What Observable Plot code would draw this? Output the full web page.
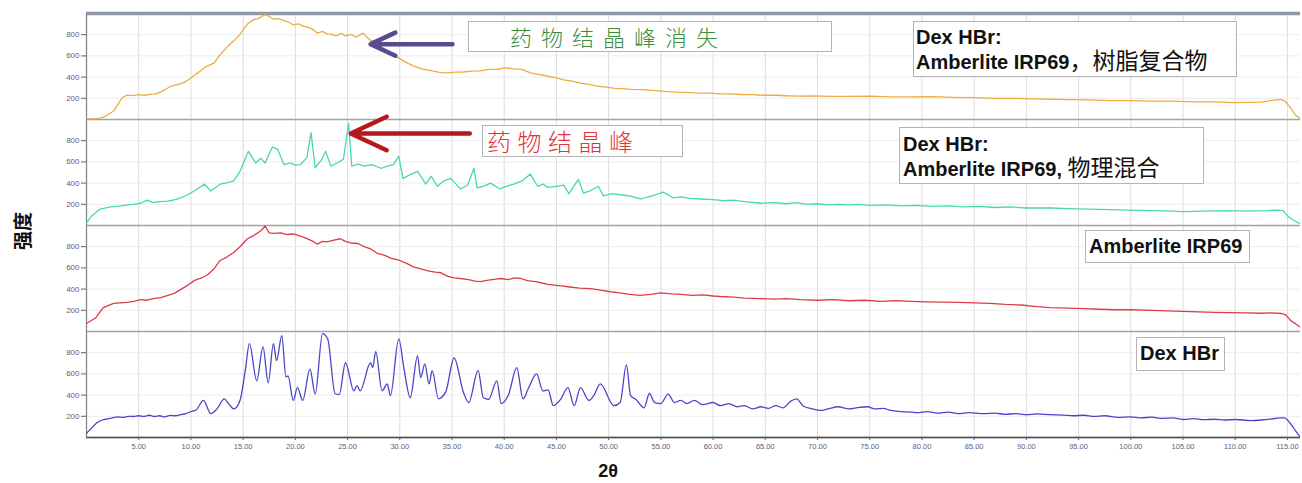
<!DOCTYPE html>
<html>
<head>
<meta charset="utf-8">
<script src="https://cdn.jsdelivr.net/npm/d3@7"></script>
<script src="https://cdn.jsdelivr.net/npm/@observablehq/plot@0.6"></script>
<style>
  body { margin: 0; background: #fff; }
  #wrap { position: relative; width: 1302px; height: 483px; overflow: hidden; font-family: "Liberation Sans", Arial, sans-serif; }
  .box { position: absolute; border: 1px solid #b4b4b4; background: #fff; box-sizing: border-box; white-space: nowrap; }
  .lbl { font-weight: bold; font-size: 20px; line-height: 22px; color: #111; }
  .cjk { font-family: "Noto Sans CJK SC", sans-serif; font-weight: 400; font-size: 23px; }
  .note { font-family: "Noto Sans CJK SC", sans-serif; font-weight: 300; }
</style>
</head>
<body>
<div id="wrap"></div>
<script>
// ---------- data ----------
const seriesNames = ["composite", "mixture", "resin", "drug"];
const lineColors = ["#efab3e", "#46d8b6", "#de3c48", "#4b44c9"];
const xTicks = [5,10,15,20,25,30,35,40,45,50,55,60,65,70,75,80,85,90,95,100,105,110,115];
const yTicks = [200, 400, 600, 800];

// Dex HBr : Amberlite IRP69 resin complex (yellow)
const composite = [[0,5],[0.5,5],[1,8],[1.6,20],[2.1,50],[2.6,80],[3.0,140],[3.4,205],[3.9,230],[4.5,226],[5,234],[5.5,228],[6,236],[6.4,240],[6.8,246],[7.2,266],[7.7,292],[8.2,318],[8.7,328],[9.3,348],[9.8,378],[10.4,422],[10.9,458],[11.5,502],[12.2,532],[12.8,612],[13.5,688],[14.1,742],[14.7,802],[15.1,862],[15.5,908],[16,942],[16.4,952],[16.8,972],[17.1,990],[17.5,972],[17.9,946],[18.4,952],[18.9,932],[19.3,922],[19.8,892],[20.3,902],[20.8,878],[21.2,872],[21.7,848],[22.1,815],[22.6,832],[23.0,808],[23.4,806],[23.9,788],[24.4,812],[24.8,788],[25.3,802],[25.8,778],[26.2,800],[26.5,815],[27.0,762],[27.6,718],[28.2,676],[29,628],[29.8,586],[30.5,544],[31.3,506],[32.1,478],[33,462],[33.8,444],[34.6,440],[35.3,446],[36.1,448],[36.9,456],[37.7,458],[38.5,472],[39.4,474],[40.1,486],[40.9,478],[41.7,472],[42.5,440],[43.3,426],[44.2,408],[45,392],[45.7,374],[46.5,362],[47.3,344],[48.1,332],[48.9,314],[49.8,306],[50.6,294],[51.4,292],[52.1,284],[53.1,282],[54.2,274],[55.3,266],[56.4,258],[57.4,256],[58.5,248],[59.6,248],[60.6,242],[61.7,241],[62.7,236],[63.8,234],[64.8,229],[66,229],[67,224],[68.1,221],[69.5,223],[71.3,219],[73,219],[75,221],[77,214],[79,214],[81,216],[83,209],[85,206],[87,199],[89,199],[90.5,194],[92.3,191],[94,187],[96,186],[98,179],[100,179],[102,174],[104,173],[106,167],[108,166],[110,159],[111.5,161],[112.5,164],[113.5,180],[114.4,190],[114.8,170],[115.3,110],[115.8,40],[116.25,5]];

// Dex HBr : Amberlite IRP69 physical mixture (cyan)
const mixture = [[0,25],[0.5,90],[1.3,155],[2.3,175],[3.3,185],[4,195],[4.5,200],[5.2,210],[5.8,240],[6.4,215],[7,225],[7.8,230],[8.5,245],[9,260],[9.7,290],[10.3,325],[11.3,390],[11.9,325],[12.4,360],[12.8,390],[13.5,405],[14.1,420],[14.7,510],[15.5,700],[16.2,590],[16.7,635],[17.1,590],[17.8,740],[18.3,720],[18.9,575],[19.5,590],[20,570],[20.5,575],[21.1,640],[21.5,875],[21.9,545],[22.5,620],[22.9,700],[23.4,560],[24,590],[24.6,625],[25.1,965],[25.4,560],[26,580],[26.6,560],[27.3,575],[28.2,540],[28.8,560],[29.4,575],[29.9,655],[30.3,445],[31,480],[31.7,510],[32.5,390],[33,465],[33.6,370],[34.2,420],[34.9,445],[35.8,345],[36.5,380],[37.1,540],[37.4,355],[38,370],[38.7,400],[39.6,345],[40.2,370],[40.9,390],[41.7,420],[42.5,485],[43.2,370],[43.7,390],[44.2,360],[45,370],[45.7,380],[46.2,300],[47.1,435],[47.6,305],[48.3,330],[49.0,370],[49.5,280],[50.3,300],[51.1,290],[52,280],[53.1,250],[53.8,270],[54.5,290],[55.2,315],[55.7,290],[56.2,260],[56.9,270],[57.8,255],[58.8,250],[60,245],[61,235],[62,240],[63,225],[64.6,210],[66,215],[67,205],[68,215],[69,200],[70,205],[71,195],[72,200],[73,195],[74,200],[75,190],[76.5,195],[78,185],[79.5,190],[81,180],[82.5,185],[84,175],[85.5,180],[87,170],[88.5,175],[90,165],[92.3,165],[94,160],[96,155],[98,150],[100,145],[102,140],[104,135],[105,130],[107,135],[109,140],[111,135],[113,140],[114,145],[114.6,140],[115,90],[115.6,50],[116.25,15]];

// Amberlite IRP69 (red)
const resin = [[0,75],[0.9,130],[1.6,225],[2.6,265],[3.2,270],[3.9,275],[4.5,285],[5.2,300],[5.8,295],[6.4,310],[7.1,320],[7.8,340],[8.4,360],[9.0,395],[9.6,430],[10.3,480],[11,505],[11.6,535],[12.2,590],[12.8,670],[13.4,700],[14.1,745],[14.7,800],[15.4,875],[15.9,900],[16.4,930],[16.8,960],[17.1,995],[17.5,930],[18,925],[18.6,930],[19.2,915],[19.8,920],[20.5,900],[21,880],[21.6,855],[22.1,825],[22.6,850],[23,845],[23.6,860],[24.3,875],[24.8,850],[25.3,835],[26,830],[26.6,800],[27.2,780],[27.8,740],[28.5,720],[29.2,690],[30,670],[30.7,640],[31.3,610],[32,590],[32.8,570],[33.4,560],[33.9,555],[34.6,520],[35.2,505],[35.8,500],[36.6,490],[37.2,475],[37.7,470],[38.5,485],[39.2,495],[39.7,500],[40.4,490],[41,505],[41.6,500],[42.2,480],[43,470],[43.5,460],[44.2,445],[45.4,430],[46.3,420],[47.2,410],[48.3,405],[49.2,390],[50.2,375],[51.1,365],[52,350],[53,340],[54,350],[55,365],[56,355],[56.9,350],[58,340],[59,345],[60,335],[60.7,330],[62,325],[63,315],[64.6,310],[66,305],[67,310],[68.4,300],[70,295],[71.5,300],[73,290],[74.5,295],[76,285],[77.5,292],[79,285],[80.5,280],[82,278],[83.5,275],[85,270],[86.5,265],[88,255],[89.5,250],[91,235],[92.3,225],[94,220],[95.5,215],[97,210],[98.5,205],[100,205],[102,200],[103.5,195],[105,190],[106.5,185],[108,180],[109.5,178],[111,175],[112.5,172],[113.5,175],[114.4,170],[114.8,160],[115.3,105],[115.8,70],[116.25,40]];

// Dex HBr (blue)
const drug = [[0,40],[0.5,90],[1,140],[1.5,165],[2,175],[2.5,185],[3,195],[3.5,190],[4,200],[4.5,198],[5,205],[5.5,200],[6,210],[6.5,198],[7,205],[7.5,195],[8,208],[8.5,205],[9,215],[9.5,225],[10,245],[10.5,260],[11.2,350],[11.9,225],[12.5,270],[13.2,365],[13.6,320],[14.1,270],[14.7,350],[15.2,630],[15.6,885],[16.3,535],[16.9,855],[17.4,515],[17.9,885],[18.2,725],[18.7,960],[19.1,570],[19.3,580],[19.8,350],[20.2,470],[20.7,350],[21.4,645],[21.9,410],[22.6,980],[23.1,930],[23.8,415],[24.2,405],[24.8,705],[25.6,440],[25.9,490],[26.2,440],[27.2,705],[27.4,660],[27.7,810],[28.3,440],[28.8,505],[29.1,395],[29.9,930],[30.4,650],[31.0,375],[31.7,770],[32.0,565],[32.4,695],[32.8,505],[33.1,630],[33.7,365],[34.4,430],[35.2,750],[36.1,425],[36.6,330],[37.5,630],[38.0,375],[38.5,360],[39.3,535],[39.7,320],[40.4,400],[41.2,660],[41.8,365],[42.3,460],[43.1,600],[43.7,440],[44.2,450],[44.7,300],[45.4,360],[46.1,470],[46.7,300],[47.3,470],[48.1,350],[48.6,400],[49.2,505],[50.5,300],[51.1,330],[51.7,685],[52.1,395],[52.6,360],[53.4,280],[53.9,415],[54.4,330],[55.0,320],[55.7,410],[56.3,330],[56.9,350],[57.5,320],[58.2,350],[59,310],[60,330],[60.7,300],[61.5,320],[62.3,290],[63,300],[63.8,270],[64.6,290],[65.3,275],[66,300],[66.7,280],[67.4,340],[68,365],[68.6,300],[69.5,270],[70.3,255],[71,270],[72,290],[73,270],[74,285],[74.8,290],[75.5,270],[76.3,275],[77,255],[78,245],[79,240],[79.6,235],[80.5,245],[81.5,230],[82.5,240],[83.5,225],[84.5,235],[85.9,225],[87,230],[88,218],[89,225],[90,215],[91,222],[92.3,215],[93.5,212],[94.5,205],[95.5,210],[96.5,200],[97.5,205],[98.8,190],[100,195],[101,185],[102,192],[103,180],[104,185],[105,170],[106,178],[107,168],[108,172],[109,165],[110,170],[111.5,160],[112.5,165],[113.5,175],[114.3,185],[114.7,185],[115.3,130],[115.8,60],[116.25,0]];

// ---------- build table ----------
const seriesData = [composite, mixture, resin, drug];
const rows = seriesNames.flatMap((s, i) => seriesData[i].map(([x, y]) => ({series: s, x, y})));
const colorOf = Object.fromEntries(seriesNames.map((s, i) => [s, lineColors[i]]));

// drug peak in the physical mixture, used to anchor the arrows
const peak = d3.greatest(mixture, d => d[1]);
const yellowAt = x => { const i = d3.bisector(d => d[0]).left(composite, x); return composite[Math.min(i, composite.length - 1)][1]; };

const chart = Plot.plot({
  width: 1302,
  height: 483,
  marginLeft: 86,
  marginRight: 2,
  marginTop: 12,
  marginBottom: 46,
  style: {fontFamily: "'Liberation Sans', Arial, sans-serif", background: "#fff"},
  x: {domain: [0, 116.25]},
  y: {domain: [0, 1000]},
  fy: {domain: seriesNames, padding: 0, axis: null},
  marks: [
    Plot.gridX({ticks: xTicks, stroke: "#dcdcdc", strokeOpacity: 1}),
    Plot.gridY({ticks: yTicks, stroke: "#ececec", strokeOpacity: 1}),
    Plot.ruleY([0], {stroke: "#a3a3a3", strokeWidth: 1.3}),
    Plot.ruleY([{series: "drug"}], {y: () => 0, fy: "series", stroke: "#505050", strokeWidth: 1.6}),
    Plot.ruleY([{series: "composite"}], {y: () => 1000, fy: "series", stroke: "#8d98a8", strokeWidth: 3.5}),
    Plot.ruleX([0], {stroke: "#888", strokeWidth: 1.3}),
    Plot.axisY({ticks: yTicks, tickFormat: d3.format("d"), tickSize: 5, tickPadding: 2, fontSize: 8, color: "#5c6280", label: null}),
    Plot.axisX({ticks: xTicks, tickFormat: d3.format(".2f"), tickSize: 3, tickPadding: 3, fontSize: 7.5, color: "#5c6280", label: null}),
    Plot.line(rows.filter(d => d.series !== "drug"), {x: "x", y: "y", fy: "series", z: "series", stroke: d => colorOf[d.series], strokeWidth: 1.3, clip: true}),
    Plot.line(rows.filter(d => d.series === "drug"), {x: "x", y: "y", fy: "series", stroke: colorOf.drug, strokeWidth: 1.3, curve: "monotone-x", clip: true}),
    Plot.arrow([{series: "mixture"}], {
      fy: "series",
      x1: () => peak[0] + 11.6, x2: () => peak[0] + 0.2,
      y1: () => peak[1] * 0.9, y2: () => peak[1] * 0.9,
      stroke: "#b3191d", strokeWidth: 4.5, headLength: 24, headAngle: 50
    }),
    Plot.arrow([{series: "composite"}], {
      fy: "series",
      x1: () => peak[0] + 9.95, x2: () => peak[0] + 2.1,
      y1: () => yellowAt(peak[0] + 2.1) * 0.99, y2: () => yellowAt(peak[0] + 2.1) * 0.99,
      stroke: "#5a4b8d", strokeWidth: 4.5, headLength: 24, headAngle: 50
    })
  ]
});

const wrap = document.getElementById("wrap");
wrap.appendChild(chart);

function addBox(left, top, width, height, html, extra) {
  const d = document.createElement("div");
  d.className = "box";
  d.style.left = left + "px"; d.style.top = top + "px";
  d.style.width = width + "px"; d.style.height = height + "px";
  Object.assign(d.style, extra || {});
  d.innerHTML = html;
  wrap.appendChild(d);
}
addBox(468, 21, 364, 31,
  '<div class="note" style="color:#3e8d3c;font-size:22px;letter-spacing:9px;line-height:29px;padding-left:41px">药物结晶峰消失</div>');
addBox(482, 125, 201, 32,
  '<div class="note" style="color:#e2353b;font-size:24px;letter-spacing:6.5px;line-height:30px;padding-left:4px">药物结晶峰</div>');
addBox(913, 21, 324, 56,
  '<div class="lbl" style="padding:4px 0 0 2px">Dex HBr:<br>Amberlite IRP69<span class="cjk">，树脂复合物</span></div>');
addBox(899, 127, 305, 57,
  '<div class="lbl" style="padding:5px 0 0 3px">Dex HBr:<br>Amberlite IRP69, <span class="cjk">物理混合</span></div>');
addBox(1085, 230, 165, 33,
  '<div class="lbl" style="padding:4px 0 0 3px">Amberlite IRP69</div>');
addBox(1136, 337, 89, 34,
  '<div class="lbl" style="padding:4px 0 0 3px">Dex HBr</div>');

// axis titles
const xt = document.createElement("div");
xt.textContent = "2θ";
Object.assign(xt.style, {position: "absolute", left: "608px", top: "461px", transform: "translateX(-50%)", fontWeight: "bold", fontSize: "18px", lineHeight: "20px", color: "#111"});
wrap.appendChild(xt);
const yt = document.createElement("div");
yt.textContent = "强度";
Object.assign(yt.style, {position: "absolute", left: "22px", top: "231px", transform: "translate(-50%,-50%) rotate(-90deg)", fontFamily: "'Noto Sans CJK SC', sans-serif", fontWeight: "bold", fontSize: "19px", lineHeight: "20px", color: "#111", whiteSpace: "nowrap"});
wrap.appendChild(yt);
</script>
</body>
</html>
